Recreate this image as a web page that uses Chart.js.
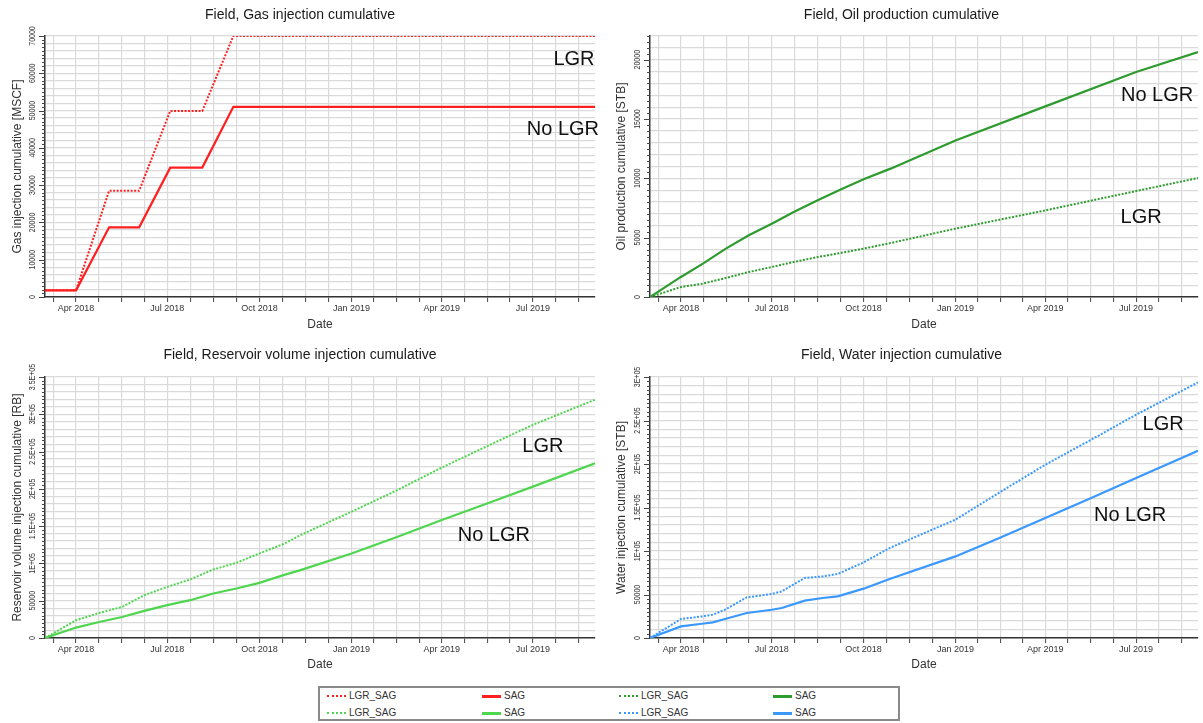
<!DOCTYPE html>
<html>
<head>
<meta charset="utf-8">
<script src="https://cdn.jsdelivr.net/npm/chart.js@4.4.1/dist/chart.umd.min.js"></script>
<style>
  html, body { margin: 0; padding: 0; background: #fff; }
  body { width: 1203px; height: 723px; position: relative; overflow: hidden; font-family: Arial, "Liberation Sans", sans-serif; }
  .panel { position: absolute; }
  #legend { position: absolute; left: 318px; top: 686px; width: 578px; height: 31px; border: 2px solid #8a8a8a; background: #fff; }
  .lg-sample { position: absolute; width: 19px; height: 0; }
  .lg-text { position: absolute; font: 10px Arial, "Liberation Sans", sans-serif; color: #333; line-height: 12px; white-space: nowrap; }
</style>
</head>
<body>
<canvas id="gas" class="panel" width="600" height="340" style="left:0;top:0"></canvas>
<canvas id="oil" class="panel" width="603" height="340" style="left:600px;top:0"></canvas>
<canvas id="res" class="panel" width="600" height="340" style="left:0;top:340px"></canvas>
<canvas id="wat" class="panel" width="603" height="340" style="left:600px;top:340px"></canvas>
<div id="legend"></div>
<script>
// ---- time axis ----
const xStart = '2018-03-01';
const xEnd = '2019-09-01';
const quarterStarts = ['2018-01-01', '2018-04-01', '2018-07-01', '2018-10-01', '2019-01-01', '2019-04-01', '2019-07-01', '2019-10-01'];
const majorTickDates = ['2018-04-01', '2018-07-01', '2018-10-01', '2019-01-01', '2019-04-01', '2019-07-01'];
const majorTickLabels = ['Apr 2018', 'Jul 2018', 'Oct 2018', 'Jan 2019', 'Apr 2019', 'Jul 2019'];

// ---- Field, Gas injection cumulative [MSCF] ----
const gasDates = ['2018-03-01', '2018-04-01', '2018-05-04', '2018-06-03', '2018-07-04', '2018-08-05', '2018-09-05', '2019-09-01'];
const gasLgrSag = [1800, 1800, 28500, 28500, 49900, 49900, 70000, 70000];
const gasSag = [1800, 1800, 18700, 18700, 34700, 34700, 51000, 51000];
const gasTickValues = [0, 10000, 20000, 30000, 40000, 50000, 60000, 70000];
const gasTickLabels = ['0', '10000', '20000', '30000', '40000', '50000', '60000', '70000'];

// ---- Field, Oil production cumulative [STB] ----
const oilDates = ['2018-03-01', '2018-04-01', '2018-04-23', '2018-05-16', '2018-06-08', '2018-07-01', '2018-07-23', '2018-08-16', '2018-09-08', '2018-10-01', '2018-10-28', '2019-01-01', '2019-04-01', '2019-07-01', '2019-09-01'];
const oilSag = [0, 1690, 2810, 4080, 5200, 6180, 7160, 8150, 9070, 9920, 10820, 13200, 16070, 18960, 20640];
const oilLgrSag = [0, 840, 1130, 1600, 2110, 2530, 2950, 3370, 3710, 4080, 4550, 5760, 7300, 8930, 10030];
const oilTickValues = [0, 5000, 10000, 15000, 20000];
const oilTickLabels = ['0', '5000', '10000', '15000', '20000'];

// ---- Field, Reservoir volume injection cumulative [RB] ----
const resDates = ['2018-03-01', '2018-04-01', '2018-04-24', '2018-05-17', '2018-06-08', '2018-07-01', '2018-07-24', '2018-08-16', '2018-09-08', '2018-10-01', '2018-10-25', '2018-11-11', '2019-01-01', '2019-02-16', '2019-04-01', '2019-05-17', '2019-07-01', '2019-09-01'];
const resSag = [0, 14000, 21500, 28200, 36300, 44000, 50700, 59700, 66400, 74000, 84300, 91000, 113400, 135800, 158200, 180600, 203000, 234400];
const resLgrSag = [0, 23800, 33600, 41700, 57400, 68500, 78500, 91900, 100800, 113400, 126000, 138000, 169400, 198500, 228500, 257700, 285900, 319500];
const resTickValues = [0, 50000, 100000, 150000, 200000, 250000, 300000, 350000];
const resTickLabels = ['0', '50000', '1E+05', '1.5E+05', '2E+05', '2.5E+05', '3E+05', '3.5E+05'];

// ---- Field, Water injection cumulative [STB] ----
const watDates = ['2018-03-01', '2018-04-01', '2018-04-22', '2018-05-03', '2018-05-15', '2018-06-06', '2018-07-01', '2018-07-11', '2018-08-03', '2018-08-21', '2018-09-05', '2018-10-01', '2018-10-27', '2019-01-01', '2019-02-14', '2019-04-01', '2019-05-17', '2019-07-01', '2019-09-01'];
const watSag = [0, 13300, 16400, 18000, 21800, 28700, 32500, 34500, 42900, 46000, 47800, 56700, 67800, 93800, 114900, 137900, 160900, 183900, 215300];
const watLgrSag = [0, 21800, 24800, 26800, 32500, 46700, 50600, 53600, 69000, 70800, 73600, 86900, 103400, 136000, 167200, 199200, 227900, 256700, 293800];
const watTickValues = [0, 50000, 100000, 150000, 200000, 250000, 300000];
const watTickLabels = ['0', '50000', '1E+05', '1.5E+05', '2E+05', '2.5E+05', '3E+05'];

// series colours
const colGas = '#ff1f1f';
const colOil = '#2e9b2e';
const colRes = '#4fd64f';
const colWat = '#3a98ff';

// ---- helpers ----
const DAY = 86400000;
function day(s) { const p = s.split('-').map(Number); return Date.UTC(p[0], p[1] - 1, p[2]) / DAY; }
function pts(dates, vals) { return dates.map((d, i) => ({ x: day(d), y: vals[i] })); }

const xMin = day(xStart), xMax = day(xEnd);
const majorDays = majorTickDates.map(day);
const xTicks = [];
for (let i = 0; i < quarterStarts.length - 1; i++) {
  const a = day(quarterStarts[i]), b = day(quarterStarts[i + 1]);
  for (let k = 0; k < 4; k++) {
    const v = a + k * (b - a) / 4;
    if (v >= xMin && v <= xMax) xTicks.push(v);
  }
}

const decor = {
  id: 'decor',
  afterDraw(chart) {
    const o = chart.options.plugins.decor;
    const ctx = chart.ctx, ca = chart.chartArea;
    const ys = chart.scales.y, xs = chart.scales.x;
    ctx.save();
    // panel title
    ctx.fillStyle = '#1a1a1a';
    ctx.font = '14px Arial, "Liberation Sans", sans-serif';
    ctx.textAlign = 'center';
    ctx.textBaseline = 'middle';
    ctx.fillText(o.title, chart.width / 2, 15);
    // x axis title
    ctx.fillStyle = '#333';
    ctx.font = '12px Arial, "Liberation Sans", sans-serif';
    ctx.fillText('Date', (ca.left + ca.right) / 2, 325);
    // y axis title
    ctx.save();
    ctx.translate(o.yTitleX, (ca.top + ca.bottom) / 2);
    ctx.rotate(-Math.PI / 2);
    ctx.fillText(o.yTitle, 0, 0);
    ctx.restore();
    // y tick marks
    ctx.strokeStyle = '#444';
    ctx.lineWidth = 1;
    const half = o.gridStep / 2;
    for (let v = 0; v <= ys.max + 1e-6; v += half) {
      const y = Math.round(ys.getPixelForValue(v)) + 0.5;
      const len = o.tickValues.includes(v) ? 6 : 3;
      ctx.beginPath();
      ctx.moveTo(ca.left - len, y);
      ctx.lineTo(ca.left, y);
      ctx.stroke();
    }
    // y tick labels, rotated
    ctx.fillStyle = '#333';
    ctx.font = '9px Arial, "Liberation Sans", sans-serif';
    o.tickValues.forEach((v, i) => {
      ctx.save();
      ctx.translate(ca.left - 12, ys.getPixelForValue(v));
      ctx.rotate(-Math.PI / 2);
      ctx.scale(0.78, 1);
      ctx.fillText(o.tickLabels[i], 0, 0);
      ctx.restore();
    });
    // curve labels
    ctx.fillStyle = '#111';
    ctx.font = '20px Arial, "Liberation Sans", sans-serif';
    o.notes.forEach(n => {
      ctx.fillText(n.text, xs.getPixelForValue(day(n.date)), ys.getPixelForValue(n.value));
    });
    ctx.restore();
  }
};

function makeChart(id, spec) {
  const dotted = {
    label: 'LGR_SAG', data: pts(spec.dates, spec.lgr), borderColor: spec.color,
    borderWidth: 2, borderDash: [2, 1.5], pointRadius: 0, tension: 0, fill: false
  };
  const solid = {
    label: 'SAG', data: pts(spec.dates, spec.sag), borderColor: spec.color,
    borderWidth: 2.2, pointRadius: 0, tension: 0, fill: false
  };
  return new Chart(document.getElementById(id), {
    type: 'line',
    data: { datasets: [dotted, solid] },
    plugins: [decor],
    options: {
      responsive: false,
      animation: false,
      events: [],
      layout: { padding: { left: 0, top: spec.top, right: 5, bottom: 0 } },
      plugins: {
        legend: { display: false },
        title: { display: false },
        tooltip: { enabled: false },
        decor: {
          title: spec.title, yTitle: spec.yTitle, yTitleX: spec.yTitleX,
          tickValues: spec.tickValues, tickLabels: spec.tickLabels,
          gridStep: spec.gridStep, notes: spec.notes
        }
      },
      scales: {
        x: {
          type: 'linear', min: xMin, max: xMax,
          afterBuildTicks: s => { s.ticks = xTicks.map(v => ({ value: v })); },
          afterFit: s => { s.height = 340 - spec.bottom; },
          ticks: {
            autoSkip: false, maxRotation: 0, minRotation: 0, padding: 1,
            color: '#333', font: { size: 9, family: 'Arial, "Liberation Sans", sans-serif' },
            callback: v => { const i = majorDays.indexOf(v); return i >= 0 ? majorTickLabels[i] : ''; }
          },
          grid: { color: '#dadada', lineWidth: 1.2, drawTicks: true, tickLength: 5, tickColor: '#444', tickWidth: 1 },
          border: { display: true, color: '#333', width: 1.5 }
        },
        y: {
          type: 'linear', min: 0, max: spec.yMax,
          afterBuildTicks: s => {
            const t = [];
            for (let v = 0; v <= spec.yMax + 1e-6; v += spec.gridStep) t.push({ value: v });
            s.ticks = t;
          },
          afterFit: s => { s.width = spec.left; },
          ticks: { display: false },
          grid: { color: '#dadada', lineWidth: 1.2, drawTicks: false },
          border: { display: true, color: '#333', width: 1.5 }
        }
      }
    }
  });
}

makeChart('gas', {
  title: 'Field, Gas injection cumulative', yTitle: 'Gas injection cumulative [MSCF]', yTitleX: 18,
  dates: gasDates, lgr: gasLgrSag, sag: gasSag, color: colGas,
  yMax: 70000, gridStep: 2000, tickValues: gasTickValues, tickLabels: gasTickLabels,
  left: 45, top: 36, bottom: 297,
  notes: [{ text: 'LGR', date: '2019-08-11', value: 63700 }, { text: 'No LGR', date: '2019-07-31', value: 44900 }]
});
makeChart('oil', {
  title: 'Field, Oil production cumulative', yTitle: 'Oil production cumulative [STB]', yTitleX: 22,
  dates: oilDates, lgr: oilLgrSag, sag: oilSag, color: colOil,
  yMax: 22000, gridStep: 1000, tickValues: oilTickValues, tickLabels: oilTickLabels,
  left: 50, top: 36, bottom: 297,
  notes: [{ text: 'No LGR', date: '2019-07-22', value: 16950 }, { text: 'LGR', date: '2019-07-06', value: 6710 }]
});
makeChart('res', {
  title: 'Field, Reservoir volume injection cumulative', yTitle: 'Reservoir volume injection cumulative [RB]', yTitleX: 18,
  dates: resDates, lgr: resLgrSag, sag: resSag, color: colRes,
  yMax: 350000, gridStep: 10000, tickValues: resTickValues, tickLabels: resTickLabels,
  left: 45, top: 37, bottom: 298,
  notes: [{ text: 'LGR', date: '2019-07-11', value: 256300 }, { text: 'No LGR', date: '2019-05-23', value: 137400 }]
});
makeChart('wat', {
  title: 'Field, Water injection cumulative', yTitle: 'Water injection cumulative [STB]', yTitleX: 22,
  dates: watDates, lgr: watLgrSag, sag: watSag, color: colWat,
  yMax: 300000, gridStep: 10000, tickValues: watTickValues, tickLabels: watTickLabels,
  left: 50, top: 37, bottom: 298,
  notes: [{ text: 'LGR', date: '2019-07-28', value: 245700 }, { text: 'No LGR', date: '2019-06-25', value: 141100 }]
});

// ---- shared legend ----
const legendItems = [
  { label: 'LGR_SAG', color: colGas, dotted: true }, { label: 'SAG', color: colGas, dotted: false },
  { label: 'LGR_SAG', color: colOil, dotted: true }, { label: 'SAG', color: colOil, dotted: false },
  { label: 'LGR_SAG', color: colRes, dotted: true }, { label: 'SAG', color: colRes, dotted: false },
  { label: 'LGR_SAG', color: colWat, dotted: true }, { label: 'SAG', color: colWat, dotted: false }
];
const legendCols = [7, 162, 299, 453];
const legendRows = [8, 25];
const lg = document.getElementById('legend');
legendItems.forEach((it, i) => {
  const c = legendCols[i % 4], r = legendRows[Math.floor(i / 4)];
  const s = document.createElement('div');
  s.className = 'lg-sample';
  s.style.left = c + 'px';
  s.style.top = (r - (it.dotted ? 1 : 1.5)) + 'px';
  s.style.borderTop = it.dotted ? ('2px dotted ' + it.color) : ('3px solid ' + it.color);
  lg.appendChild(s);
  const t = document.createElement('div');
  t.className = 'lg-text';
  t.style.left = (c + 22) + 'px';
  t.style.top = (r - 6) + 'px';
  t.textContent = it.label;
  lg.appendChild(t);
});
</script>
</body>
</html>
